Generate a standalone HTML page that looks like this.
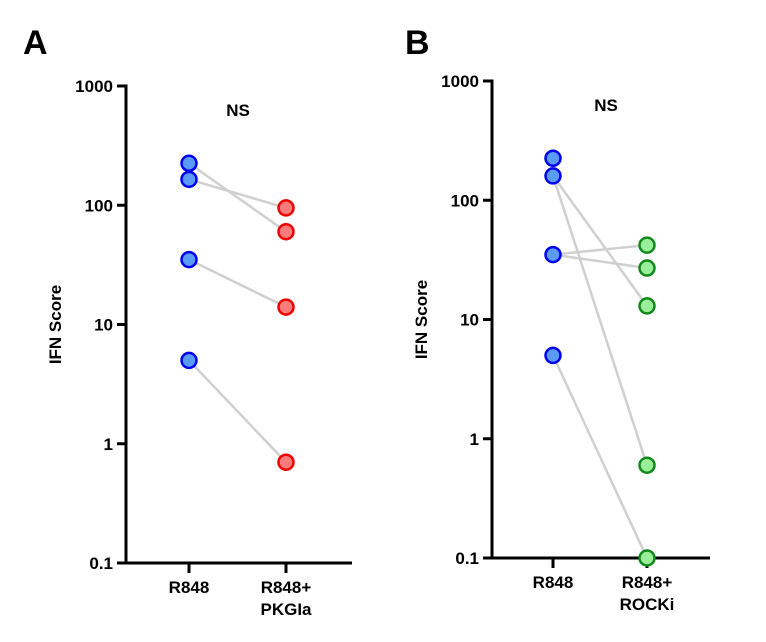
<!DOCTYPE html>
<html><head><meta charset="utf-8"><style>
body{margin:0;background:#fff;}
svg text{font-family:"Liberation Sans",Arial,sans-serif;font-weight:bold;fill:#000;}
</style></head><body>
<svg id="chart" width="766" height="637" xmlns="http://www.w3.org/2000/svg"></svg>
<script>
const yTicks=[1000,100,10,1,0.1];
const yTickLabels=["1000","100","10","1","0.1"];
const catsA=["R848","R848+|PKGIa"];
const catsB=["R848","R848+|ROCKi"];
const aR848=[225,165,35,5];
const aTreat=[95,60,14,0.7];
const aPairs=[[0,1],[1,0],[2,2],[3,3]];
const bR848=[225,160,35,5];
const bTreat=[42,27,13,0.6,0.1];
const bPairs=[[1,2],[1,3],[2,0],[2,1],[3,4]];
const NS="http://www.w3.org/2000/svg";
const svg=document.getElementById('chart');
function el(t,a,p){const e=document.createElementNS(NS,t);for(const k in a)e.setAttribute(k,a[k]);(p||svg).appendChild(e);return e;}
function panel(cfg){
  const g=el('g',{});
  
  
  const y=v=>cfg.bottom-(Math.log10(v)+1)*cfg.dec;
  const x=i=>cfg.xs[i];
  const ax=cfg.ax;
  const yl=el('line',{x1:ax,y1:cfg.bottom+1.5,x2:ax,y2:y(1000)-1.5,stroke:'#000','stroke-width':3},g);
  
  const xl=el('line',{x1:ax-1.5,y1:cfg.bottom,x2:cfg.xend,y2:cfg.bottom,stroke:'#000','stroke-width':3},g);
  
  yTicks.forEach((v,i)=>{
    el('line',{x1:ax-9,y1:y(v),x2:ax,y2:y(v),stroke:'#000','stroke-width':3},g);
    const t=el('text',{x:ax-13,y:y(v)+6,'text-anchor':'end','font-size':17},g);
    t.textContent=yTickLabels[i];
    
  });
  cfg.cats.forEach((c,i)=>{
    el('line',{x1:x(i),y1:cfg.bottom,x2:x(i),y2:cfg.bottom+10,stroke:'#000','stroke-width':3},g);
    c.split('|').forEach((s,j)=>{
      const t=el('text',{x:x(i),y:cfg.bottom+30+j*22,'text-anchor':'middle','font-size':17},g);
      t.textContent=s;
      
    });
  });
  const yt=el('text',{x:0,y:0,'text-anchor':'middle','font-size':17,transform:`translate(${cfg.ax-65},${(y(1000)+cfg.bottom)/2}) rotate(-90)`},g);
  yt.textContent='IFN Score';
  const ns=el('text',{x:cfg.nsx,y:y(1000)+30,'text-anchor':'middle','font-size':17},g);
  ns.textContent='NS';
  const L=el('text',{x:cfg.lx,y:54,'font-size':34},g);
  L.textContent=cfg.letter;
  cfg.pairs.forEach(p=>{
    const l=el('line',{x1:x(0),y1:y(cfg.r[p[0]]),x2:x(1),y2:y(cfg.t[p[1]]),stroke:'#d0d0d0','stroke-width':2.5},g);
    
  });
  cfg.r.forEach(v=>{
    const c=el('circle',{cx:x(0),cy:y(v),r:7.5,fill:'#5b9bf8',stroke:'#0000ee','stroke-width':2.5},g);
    
  });
  cfg.t.forEach(v=>{
    const c=el('circle',{cx:x(1),cy:y(v),r:7.5,fill:cfg.fill,stroke:cfg.stroke,'stroke-width':2.5},g);
    
  });
}
panel({name:'panel-a',letter:'A',lx:23,ax:126,bottom:563,dec:119.25,xend:352,xs:[189,286],cats:catsA,r:aR848,t:aTreat,pairs:aPairs,fill:'#f87c7c',stroke:'#ee0000',nsx:238});
panel({name:'panel-b',letter:'B',lx:405,ax:492,bottom:558,dec:119.25,xend:710,xs:[553,647],cats:catsB,r:bR848,t:bTreat,pairs:bPairs,fill:'#99ee99',stroke:'#11881a',nsx:606});
</script>
</body></html>
